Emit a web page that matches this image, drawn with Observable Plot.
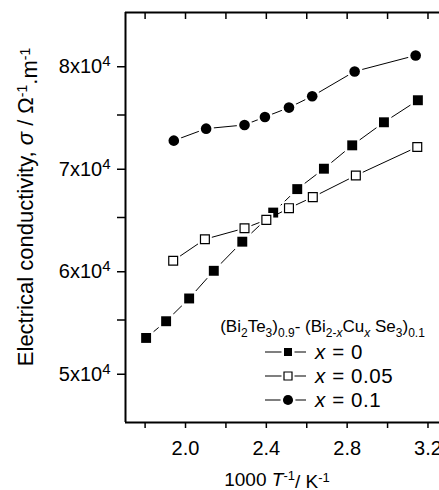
<!DOCTYPE html>
<html><head><meta charset="utf-8">
<script src="https://cdn.jsdelivr.net/npm/d3@7"></script>
<script src="https://cdn.jsdelivr.net/npm/@observablehq/plot@0.6"></script>
<style>
html,body{margin:0;padding:0;background:#fff;}
#wrap{position:relative;width:439px;height:490px;overflow:hidden;}
svg{overflow:hidden;}
</style></head><body><div id="wrap"></div>
<script>
// 1000/T (K^-1) and conductivity (S/m)
const invT_x0   = [1.805, 1.904, 2.018, 2.140, 2.281, 2.434, 2.553, 2.685, 2.825, 2.982, 3.150];
const sigma_x0  = [53250, 54880, 57100, 59800, 62640, 65480, 67770, 69760, 72040, 74290, 76440];
const invT_x005 = [1.939, 2.096, 2.292, 2.400, 2.512, 2.630, 2.843, 3.147];
const sigma_x005= [60780, 62880, 63950, 64770, 65910, 66990, 69100, 71880];
const invT_x01  = [1.942, 2.102, 2.292, 2.393, 2.512, 2.627, 2.837, 3.139];
const sigma_x01 = [72500, 73670, 74030, 74810, 75720, 76830, 79250, 80810];
const seriesNames = ["x = 0", "x = 0.05", "x = 0.1"];
const xMajor = [2.0, 2.4, 2.8, 3.2];
const xMinor = [1.8, 2.2, 2.6, 3.0];
const yMajor = [50000, 60000, 70000, 80000];
const yMinor = [55000, 65000, 75000];
const xDomain = [1.703, 3.257];
const yDomain = [45000, 85000];

const toRows = (xs, ys) => xs.map((x, i) => ({x, y: ys[i]}));
const s0 = toRows(invT_x0, sigma_x0);
const s1 = toRows(invT_x005, sigma_x005);
const s2 = toRows(invT_x01, sigma_x01);

const font = "Liberation Sans, Arial, sans-serif";
const seriesMarks = (data, symbol, r, fill, stroke) => [
  Plot.line(data, {x: "x", y: "y", stroke: "black", strokeWidth: 1}),
  Plot.dot(data, {x: "x", y: "y", symbol, r, fill: "white", stroke: "white", strokeWidth: 5}),
  Plot.dot(data, {x: "x", y: "y", symbol, r, fill, stroke, strokeWidth: stroke === "none" ? 0 : 1.2})
];

const plot = Plot.plot({
  width: 439, height: 490,
  marginLeft: 125, marginTop: 12, marginBottom: 68, marginRight: 0,
  style: {fontFamily: font, fontSize: "20px", color: "black", background: "white"},
  x: {domain: xDomain},
  y: {domain: yDomain},
  marks: [
    Plot.axisY({ticks: yMajor, tickSize: 8, tickPadding: 7, dy: 3, strokeWidth: 1.5, tickFormat: d => `${d / 1e4}x10`, label: null}),
    Plot.axisY({ticks: yMinor, tickSize: 8, strokeWidth: 1.5, tickFormat: () => "", label: null}),
    Plot.axisX({ticks: xMajor, tickSize: 6, tickPadding: 12, strokeWidth: 1.5, tickFormat: d => d.toFixed(1), label: null}),
    Plot.axisX({ticks: xMinor, tickSize: 6, strokeWidth: 1.5, tickFormat: () => "", label: null}),
    Plot.axisX({anchor: "top", ticks: xMinor.concat(xMajor), tickSize: -6, strokeWidth: 1.5, tickFormat: () => "", label: null}),
    Plot.ruleX([xDomain[0]], {strokeWidth: 2}),
    Plot.ruleY([yDomain[0]], {strokeWidth: 2}),
    Plot.ruleY([yDomain[1]], {strokeWidth: 2}),
    ...seriesMarks(s0, "square", 5.6, "black", "none"),
    ...seriesMarks(s1, "square", 5.0, "white", "black"),
    ...seriesMarks(s2, "circle", 5.3, "black", "none")
  ]
});
document.getElementById("wrap").appendChild(plot);

const svg = d3.select(plot);
// superscript exponent on y tick labels
svg.selectAll('g[aria-label="y-axis tick label"] text').each(function() {
  const t = d3.select(this);
  if (t.text().endsWith("x10")) t.append("tspan").attr("dy", "-0.45em").style("font-size", "15px").text("4");
});

// axis titles
const yl = svg.append("text")
  .attr("transform", `translate(33,207) rotate(-90)`)
  .attr("text-anchor", "middle").style("font-family", font).style("font-size", "22px");
yl.append("tspan").text("Electrical conductivity, ");
yl.append("tspan").style("font-style", "italic").text("σ");
yl.append("tspan").text(" / Ω");
yl.append("tspan").attr("dy", "-0.45em").style("font-size", "14px").text("-1");
yl.append("tspan").attr("dy", "0.45em").text(".m");
yl.append("tspan").attr("dy", "-0.45em").style("font-size", "14px").text("-1");

const xl = svg.append("text").attr("x", 277).attr("y", 485.5)
  .attr("text-anchor", "middle").style("font-family", font).style("font-size", "19px");
xl.append("tspan").text("1000 ");
xl.append("tspan").style("font-style", "italic").text("T");
xl.append("tspan").attr("dy", "-0.45em").style("font-size", "13px").text("-1");
xl.append("tspan").attr("dy", "0.45em").text("/ K");
xl.append("tspan").attr("dy", "-0.45em").style("font-size", "13px").text("-1");

// legend
const lg = svg.append("g").style("font-family", font);
const tt = lg.append("text").attr("x", 322.5).attr("y", 331.5).attr("text-anchor", "middle").style("font-size", "17px");
const part = (s, opts = {}) => {
  const sp = tt.append("tspan").text(s);
  if (opts.dy) sp.attr("dy", opts.dy);
  if (opts.small) sp.style("font-size", "12px");
  if (opts.it) sp.style("font-style", "italic");
  return sp;
};
part("(Bi"); part("2", {dy: "5", small: 1}); part("Te", {dy: "-5"}); part("3", {dy: "5", small: 1});
part(")", {dy: "-5"}); part("0.9", {dy: "5", small: 1}); part("- (Bi", {dy: "-5"});
part("2-", {dy: "5", small: 1}); part("x", {small: 1, it: 1}); part("Cu", {dy: "-5"});
part("x", {dy: "5", small: 1, it: 1}); part(" Se", {dy: "-5"}); part("3", {dy: "5", small: 1});
part(")", {dy: "-5"}); part("0.1", {dy: "5", small: 1});

const rowY = [352, 376, 400];
const symbols = [d3.symbolSquare, d3.symbolSquare, d3.symbolCircle];
seriesNames.forEach((name, i) => {
  const y = rowY[i];
  lg.append("line").attr("x1", 265).attr("x2", 306).attr("y1", y).attr("y2", y).attr("stroke", "black").attr("stroke-width", 1.2);
  const d = d3.symbol(symbols[i], i === 2 ? 80 : 64)();
  lg.append("path").attr("d", d).attr("transform", `translate(288,${y})`)
    .attr("fill", "white").attr("stroke", "white").attr("stroke-width", 5);
  lg.append("path").attr("d", d).attr("transform", `translate(288,${y})`)
    .attr("fill", i === 1 ? "white" : "black").attr("stroke", i === 1 ? "black" : "none")
    .attr("stroke-width", 1.2);
  const t = lg.append("text").attr("x", 315).attr("y", y + 7).attr("text-anchor", "start")
    .style("font-size", "20.5px").style("letter-spacing", "0.6px");
  const [a, b] = name.split(" = ");
  t.append("tspan").style("font-style", "italic").text(a);
  t.append("tspan").text(" = " + b);
});
</script></body></html>
